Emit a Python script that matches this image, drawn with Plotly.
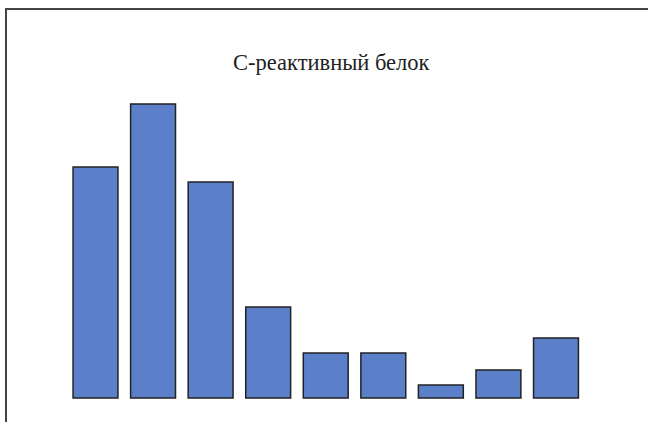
import plotly.graph_objects as go

# Bar heights of the nine groups
categories = ["1", "2", "3", "4", "5", "6", "7", "8", "9"]
values = [231, 294, 216, 91, 45, 45, 13, 28, 60]
title_text = "С-реактивный белок"

W, H = 650, 424
# The plot area doubles as the frame: its top and left axis lines are the
# frame edges; the right and bottom sides have no line and sit at the page edge.
ml, mt, mr, mb = 7, 10, 2, 2
plot_w = W - ml - mr
plot_h = H - mt - mb

pitch = 57.56          # pixels per category
first_center = 95.5    # pixel x of the first bar's centre
baseline = 398         # pixel y of the bars' base

x0 = -(first_center - ml) / pitch
x_range = [x0, x0 + plot_w / pitch]
y_range = [-(H - mb - baseline), baseline - mt]


def px_x(x):
    return (x - ml) / plot_w


def px_y(y):
    return (H - mb - y) / plot_h


fig = go.Figure(
    go.Bar(
        x=list(range(len(categories))),
        y=values,
        width=0.78,
        marker=dict(color="#5b80c9", line=dict(color="#222222", width=1.5)),
        hovertext=categories,
    )
)

frame_axis = dict(
    showline=True, linecolor="#444444", linewidth=2,
    showgrid=False, zeroline=False, showticklabels=False, ticks="",
)

fig.update_layout(
    width=W,
    height=H,
    margin=dict(l=ml, r=mr, t=mt, b=mb, pad=0),
    paper_bgcolor="white",
    plot_bgcolor="white",
    showlegend=False,
    xaxis=dict(range=x_range, side="top", **frame_axis),
    yaxis=dict(range=y_range, side="left", **frame_axis),
    annotations=[
        dict(
            text=title_text,
            xref="paper", yref="paper",
            x=px_x(332), y=px_y(62),
            xanchor="center", yanchor="middle",
            showarrow=False,
            font=dict(family="Liberation Serif", size=22.5, color="#222222"),
        )
    ],
)

# Keep the page itself free of scrollbars
no_scroll = (
    "document.documentElement.style.overflow='hidden';"
    "document.body.style.overflow='hidden';"
    "document.body.style.margin='0';"
)

fig.write_html("out.html", post_script=no_scroll, config={"displayModeBar": False})
